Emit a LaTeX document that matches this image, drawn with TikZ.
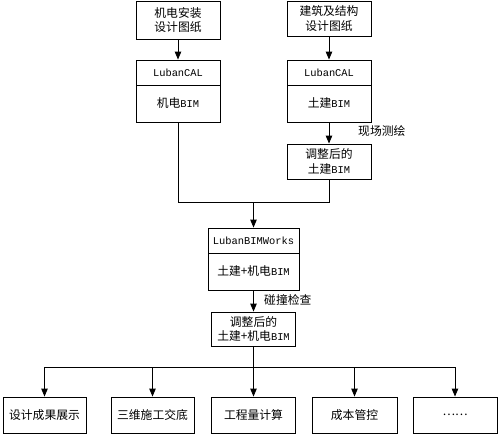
\documentclass[tikz,border=0pt]{standalone}
\usepackage{fontspec}
\setmainfont{Liberation Mono}
\newfontfamily\cjk{Noto Sans CJK SC}
\usetikzlibrary{arrows.meta}
\tikzset{
  box/.style={draw, line width=0.9pt, minimum width=84pt, inner sep=0pt, align=center,
    font=\fontsize{10.4pt}{14.5pt}\selectfont},
  conn/.style={line width=0.9pt},
  arr/.style={conn, -{Triangle[length=8pt,width=6.5pt]}},
  lbl/.style={anchor=west, inner sep=0pt, font=\fontsize{10.4pt}{12pt}\selectfont}
}
\newcommand{\zh}[1]{{\cjk\fontsize{11.8pt}{14.5pt}\selectfont #1}}
\begin{document}
\begin{tikzpicture}[x=1pt,y=-1pt]
\useasboundingbox[fill=white] (0,0) rectangle (500,437);
% top left column
\node[box, minimum height=38pt] (d1) at (178,20) {\zh{机电安装}\\\zh{设计图纸}};
\node[box, minimum height=25pt] (c1) at (178,72.5) {LubanCAL};
\node[box, minimum height=37pt] (m1) at (178,103.5) {\zh{机电}BIM};
% top right column
\node[box, minimum height=35pt] (d2) at (329,18.5) {\zh{建筑及结构}\\\zh{设计图纸}};
\node[box, minimum height=25pt] (c2) at (329,72.5) {LubanCAL};
\node[box, minimum height=37pt] (m2) at (329,103.5) {\zh{土建}BIM};
\node[box, minimum height=35pt] (a1) at (329,161.5) {\zh{调整后的}\\\zh{土建}BIM};
\node[lbl] (l1) at (358,131) {\zh{现场测绘}};
% middle
\coordinate (j1) at (253.5,202);
\node[box, minimum width=91pt, minimum height=25pt] (w1) at (253.5,240.5) {LubanBIMWorks};
\node[box, minimum width=91pt, minimum height=37pt] (w2) at (253.5,271.5) {\zh{土建+机电}BIM};
\node[lbl] (l2) at (264,300) {\zh{碰撞检查}};
\node[box, minimum height=34pt] (a2) at (253.5,329) {\zh{调整后的}\\\zh{土建+机电}BIM};
% bottom
\coordinate (j2) at (253.5,367);
\node[box, minimum width=83pt, minimum height=36pt] (b1) at (44.5,415) {\zh{设计成果展示}};
\node[box, minimum width=83pt, minimum height=36pt] (b2) at (152.5,415) {\zh{三维施工交底}};
\node[box, minimum width=84pt, minimum height=36pt] (b3) at (253.5,415) {\zh{工程量计算}};
\node[box, minimum width=85pt, minimum height=36pt] (b4) at (354.5,415) {\zh{成本管控}};
\node[box, minimum width=84pt, minimum height=36pt] (b5) at (455,415) {\zh{……}};
% connectors
\draw[arr] (d1) -- (c1);
\draw[arr] (d2) -- (c2);
\draw[arr] (m2) -- (a1);
\draw[conn] (m1.south) |- (j1);
\draw[conn] (a1.south) |- (j1);
\draw[arr] (j1) -- (w1);
\draw[arr] (w2) -- (a2);
\draw[conn] (a2) -- (j2);
\draw[arr] (j2) -- (b3);
\draw[arr] (j2) -| (b1);
\draw[arr] (j2) -| (b2);
\draw[arr] (j2) -| (b4);
\draw[arr] (j2) -| (b5);
\end{tikzpicture}
\end{document}
